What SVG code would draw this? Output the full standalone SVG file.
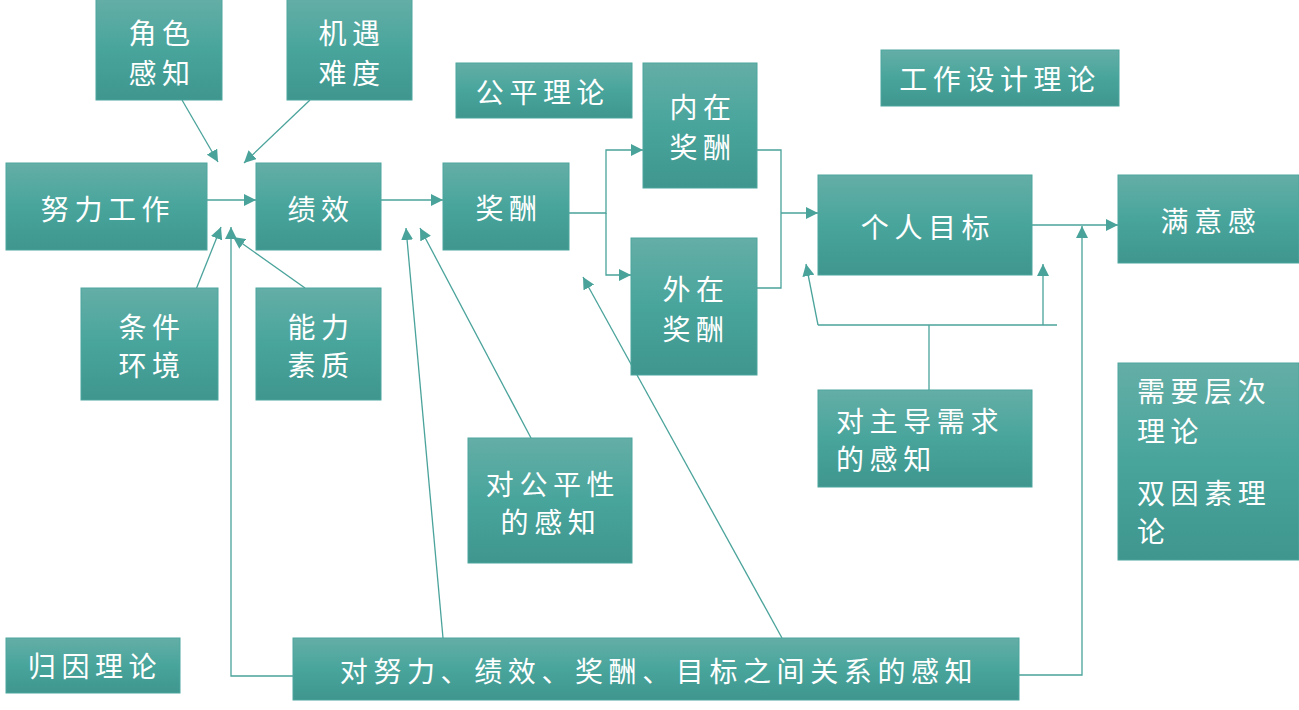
<svg xmlns="http://www.w3.org/2000/svg" width="1299" height="710" viewBox="0 0 1299 710">
<defs>
<linearGradient id="g" x1="0" y1="0" x2="0" y2="1">
<stop offset="0" stop-color="#64AEA6"/>
<stop offset="0.5" stop-color="#48A59C"/>
<stop offset="1" stop-color="#3F968E"/>
</linearGradient>
<marker id="a" markerUnits="userSpaceOnUse" markerWidth="12" markerHeight="12" viewBox="0 0 12 12" refX="12" refY="6" orient="auto">
<path d="M0,0 L12,6 L0,12 z" fill="#4AA39B"/>
</marker>
<style>
.b{fill:url(#g);stroke:#4DA69D;stroke-width:1}
.t{font-family:"Noto Sans CJK SC","Noto Sans CJK JP",sans-serif;font-size:28px;fill:#FFFFFF;letter-spacing:5.6px;dominant-baseline:central}
.m{text-anchor:middle}
.c{fill:none;stroke:#4AA39B;stroke-width:1.3}
</style>
</defs>
<rect width="1299" height="710" fill="#FFFFFF"/>
<g id="connectors">
<line class="c" x1="207" y1="200" x2="256" y2="200" marker-end="url(#a)"/>
<line class="c" x1="381" y1="200" x2="443" y2="200" marker-end="url(#a)"/>
<line class="c" x1="182" y1="100" x2="218" y2="162" marker-end="url(#a)"/>
<line class="c" x1="310" y1="100" x2="244" y2="163" marker-end="url(#a)"/>
<line class="c" x1="195" y1="292" x2="221" y2="227" marker-end="url(#a)"/>
<line class="c" x1="305" y1="288" x2="233" y2="237" marker-end="url(#a)"/>
<polyline class="c" points="293,676 231,676 231,227" marker-end="url(#a)"/>
<line class="c" x1="443" y1="638" x2="406" y2="228" marker-end="url(#a)"/>
<line class="c" x1="531" y1="438" x2="420" y2="228" marker-end="url(#a)"/>
<line class="c" x1="782" y1="638" x2="583" y2="277" marker-end="url(#a)"/>
<polyline class="c" points="569,213 606,213 606,150 643,150" marker-end="url(#a)"/>
<polyline class="c" points="606,213 606,275 631,275" marker-end="url(#a)"/>
<polyline class="c" points="757,150 781,150 781,288 757,288"/>
<line class="c" x1="781" y1="213" x2="818" y2="213" marker-end="url(#a)"/>
<line class="c" x1="1032" y1="225" x2="1118" y2="225" marker-end="url(#a)"/>
<polyline class="c" points="1019,675 1082,675 1082,226" marker-end="url(#a)"/>
<line class="c" x1="818" y1="325" x2="1057" y2="325"/>
<line class="c" x1="929" y1="390" x2="929" y2="325"/>
<line class="c" x1="1043" y1="325" x2="1043" y2="264" marker-end="url(#a)"/>
<line class="c" x1="818" y1="325" x2="806" y2="264" marker-end="url(#a)"/>
</g>
<g id="n-role">
<rect class="b" x="96" y="-1" width="126" height="101"/>
<text class="t m" x="162" y="32">角色</text>
<text class="t m" x="162" y="72">感知</text>
</g>
<g id="n-chance">
<rect class="b" x="287" y="-1" width="125" height="101"/>
<text class="t m" x="352" y="32">机遇</text>
<text class="t m" x="352" y="72">难度</text>
</g>
<g id="n-effort">
<rect class="b" x="6" y="163" width="201" height="87"/>
<text class="t m" x="108" y="208">努力工作</text>
</g>
<g id="n-perf">
<rect class="b" x="256" y="163" width="125" height="87"/>
<text class="t m" x="321" y="208">绩效</text>
</g>
<g id="n-reward">
<rect class="b" x="443" y="163" width="126" height="87"/>
<text class="t m" x="509" y="207">奖酬</text>
</g>
<g id="n-equity-theory">
<rect class="b" x="456" y="63" width="176" height="55"/>
<text class="t m" x="543" y="91">公平理论</text>
</g>
<g id="n-intrinsic">
<rect class="b" x="643" y="63" width="114" height="125"/>
<text class="t m" x="703" y="106">内在</text>
<text class="t m" x="703" y="146">奖酬</text>
</g>
<g id="n-extrinsic">
<rect class="b" x="631" y="238" width="126" height="137"/>
<text class="t m" x="696" y="288">外在</text>
<text class="t m" x="696" y="328">奖酬</text>
</g>
<g id="n-job-design">
<rect class="b" x="881" y="50" width="238" height="56"/>
<text class="t m" x="1000" y="78">工作设计理论</text>
</g>
<g id="n-goal">
<rect class="b" x="818" y="175" width="214" height="100"/>
<text class="t m" x="928" y="226">个人目标</text>
</g>
<g id="n-satisfaction">
<rect class="b" x="1118" y="175" width="181" height="88"/>
<text class="t m" x="1211" y="220">满意感</text>
</g>
<g id="n-condition">
<rect class="b" x="81" y="288" width="137" height="112"/>
<text class="t m" x="152" y="326">条件</text>
<text class="t m" x="152" y="364">环境</text>
</g>
<g id="n-ability">
<rect class="b" x="256" y="288" width="125" height="112"/>
<text class="t m" x="321" y="326">能力</text>
<text class="t m" x="321" y="364">素质</text>
</g>
<g id="n-need-perception">
<rect class="b" x="818" y="390" width="214" height="97"/>
<text class="t" x="836" y="420">对主导需求</text>
<text class="t" x="836" y="458">的感知</text>
</g>
<g id="n-theories">
<rect class="b" x="1118" y="363" width="181" height="197"/>
<text class="t" x="1137" y="390">需要层次</text>
<text class="t" x="1137" y="430">理论</text>
<text class="t" x="1137" y="492">双因素理</text>
<text class="t" x="1137" y="530">论</text>
</g>
<g id="n-equity-perception">
<rect class="b" x="468" y="438" width="164" height="125"/>
<text class="t m" x="553" y="483">对公平性</text>
<text class="t m" x="551" y="521">的感知</text>
</g>
<g id="n-attribution">
<rect class="b" x="6" y="638" width="174" height="55"/>
<text class="t m" x="95" y="665">归因理论</text>
</g>
<g id="n-relation-perception">
<rect class="b" x="293" y="638" width="726" height="62"/>
<text class="t m" x="659" y="670">对努力、绩效、奖酬、目标之间关系的感知</text>
</g>
</svg>
